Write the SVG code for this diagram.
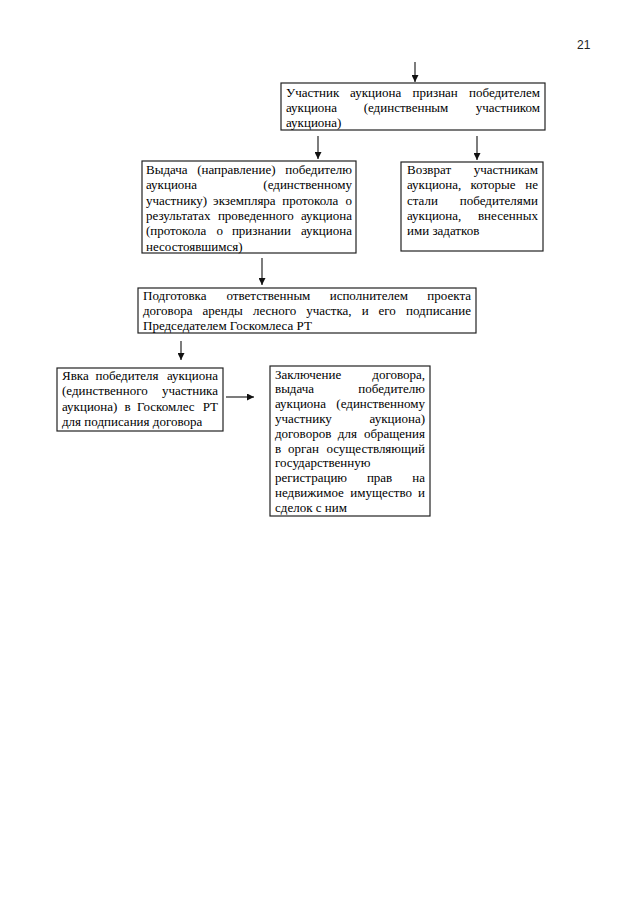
<svg xmlns="http://www.w3.org/2000/svg" width="640" height="905" viewBox="0 0 640 905">
<style>
.t{font-family:"Liberation Serif","Times New Roman",serif;font-size:13px;fill:#000}
.e{text-anchor:end}
.box{fill:#fff;stroke:#222;stroke-width:1.2}
.ln{stroke:#111;stroke-width:1.1;fill:none}
.pg{font-family:"Liberation Sans",Arial,sans-serif;font-size:12px;fill:#222}
</style>
<defs>
<marker id="ah" markerUnits="userSpaceOnUse" markerWidth="8" markerHeight="7" refX="7" refY="3.5" orient="auto">
<path d="M0,0 L7,3.5 L0,7 z" fill="#111"/>
</marker>
</defs>
<rect width="640" height="905" fill="#fff"/>
<text class="pg" x="577" y="49">21</text>

<g id="connectors">
<line class="ln" x1="415" y1="62" x2="415" y2="82" marker-end="url(#ah)"/>
<line class="ln" x1="318" y1="136" x2="318" y2="159" marker-end="url(#ah)"/>
<line class="ln" x1="477" y1="136" x2="477" y2="160" marker-end="url(#ah)"/>
<line class="ln" x1="262" y1="258" x2="262" y2="285" marker-end="url(#ah)"/>
<line class="ln" x1="181" y1="341" x2="181" y2="360" marker-end="url(#ah)"/>
<line class="ln" x1="226" y1="397" x2="254" y2="397" marker-end="url(#ah)"/>
</g>

<g id="n1">
<rect class="box" x="281" y="83" width="264" height="47"/>
<text class="t" x="286" y="97">Участник</text>
<text class="t" x="350.1" y="97">аукциона</text>
<text class="t" x="412.6" y="97">признан</text>
<text class="t e" x="540" y="97">победителем</text>
<text class="t" x="286" y="112">аукциона</text>
<text class="t" x="363.7" y="112">(единственным</text>
<text class="t e" x="540" y="112">участником</text>
<text class="t" x="286" y="127">аукциона)</text>
</g>

<g id="n2">
<rect class="box" x="142" y="161" width="214" height="92"/>
<text class="t" x="146" y="174">Выдача</text>
<text class="t" x="197.2" y="174">(направление)</text>
<text class="t e" x="352" y="174">победителю</text>
<text class="t" x="146" y="189.3">аукциона</text>
<text class="t e" x="352" y="189.3">(единственному</text>
<text class="t" x="146" y="204.6">участнику)</text>
<text class="t" x="213.1" y="204.6">экземпляра</text>
<text class="t" x="282.3" y="204.6">протокола</text>
<text class="t e" x="352" y="204.6">о</text>
<text class="t" x="146" y="219.9">результатах</text>
<text class="t" x="217.9" y="219.9">проведенного</text>
<text class="t e" x="352" y="219.9">аукциона</text>
<text class="t" x="146" y="235.2">(протокола</text>
<text class="t" x="216.6" y="235.2">о</text>
<text class="t" x="231.9" y="235.2">признании</text>
<text class="t e" x="352" y="235.2">аукциона</text>
<text class="t" x="146" y="250.5">несостоявшимся)</text>
</g>

<g id="n3">
<rect class="box" x="401" y="162" width="142" height="89"/>
<text class="t" x="407" y="174">Возврат</text>
<text class="t e" x="538" y="174">участникам</text>
<text class="t" x="407" y="189.3">аукциона,</text>
<text class="t" x="470.5" y="189.3">которые</text>
<text class="t e" x="538" y="189.3">не</text>
<text class="t" x="407" y="204.6">стали</text>
<text class="t e" x="538" y="204.6">победителями</text>
<text class="t" x="407" y="219.9">аукциона,</text>
<text class="t e" x="538" y="219.9">внесенных</text>
<text class="t" x="407" y="235.2">ими задатков</text>
</g>

<g id="n4">
<rect class="box" x="138" y="288" width="338" height="45"/>
<text class="t" x="143" y="300">Подготовка</text>
<text class="t" x="226.5" y="300">ответственным</text>
<text class="t" x="329.7" y="300">исполнителем</text>
<text class="t e" x="471" y="300">проекта</text>
<text class="t" x="143" y="315">договора</text>
<text class="t" x="202.5" y="315">аренды</text>
<text class="t" x="252.9" y="315">лесного</text>
<text class="t" x="306.2" y="315">участка,</text>
<text class="t" x="361.7" y="315">и</text>
<text class="t" x="378.5" y="315">его</text>
<text class="t e" x="471" y="315">подписание</text>
<text class="t" x="143" y="330">Председателем Госкомлеса РТ</text>
</g>

<g id="n5">
<rect class="box" x="57" y="368" width="166" height="63"/>
<text class="t" x="62" y="380">Явка</text>
<text class="t" x="95.6" y="380">победителя</text>
<text class="t e" x="218" y="380">аукциона</text>
<text class="t" x="62" y="395.3">(единственного</text>
<text class="t e" x="218" y="395.3">участника</text>
<text class="t" x="62" y="410.6">аукциона)</text>
<text class="t" x="124.6" y="410.6">в</text>
<text class="t" x="137.1" y="410.6">Госкомлес</text>
<text class="t e" x="218" y="410.6">РТ</text>
<text class="t" x="62" y="425.9">для подписания договора</text>
</g>

<g id="n6">
<rect class="box" x="270" y="366" width="160" height="150"/>
<text class="t" x="275" y="378.5">Заключение</text>
<text class="t e" x="425" y="378.5">договора,</text>
<text class="t" x="275" y="393.3">выдача</text>
<text class="t e" x="425" y="393.3">победителю</text>
<text class="t" x="275" y="408.1">аукциона</text>
<text class="t e" x="425" y="408.1">(единственному</text>
<text class="t" x="275" y="422.9">участнику</text>
<text class="t e" x="425" y="422.9">аукциона)</text>
<text class="t" x="275" y="437.7">договоров</text>
<text class="t" x="337.8" y="437.7">для</text>
<text class="t e" x="425" y="437.7">обращения</text>
<text class="t" x="275" y="452.5">в</text>
<text class="t" x="288" y="452.5">орган</text>
<text class="t e" x="425" y="452.5">осуществляющий</text>
<text class="t" x="275" y="467.3">государственную</text>
<text class="t" x="275" y="482.1">регистрацию</text>
<text class="t" x="366.9" y="482.1">прав</text>
<text class="t e" x="425" y="482.1">на</text>
<text class="t" x="275" y="496.9">недвижимое</text>
<text class="t" x="350.3" y="496.9">имущество</text>
<text class="t e" x="425" y="496.9">и</text>
<text class="t" x="275" y="511.7">сделок с ним</text>
</g>
</svg>
